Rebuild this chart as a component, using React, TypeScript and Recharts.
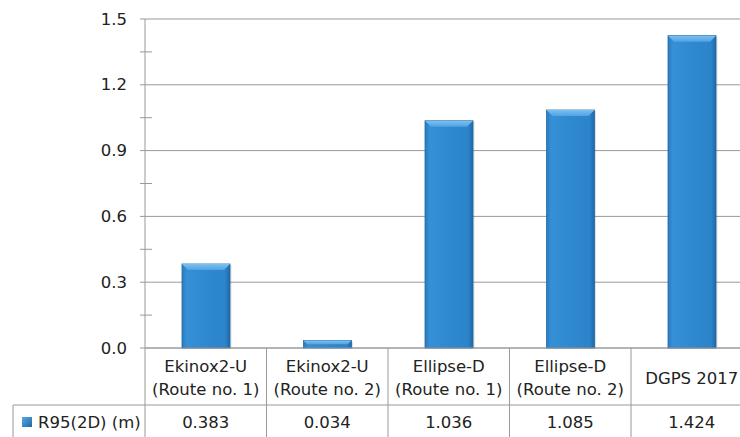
import React from "react";
import { BarChart, Bar, XAxis, YAxis, CartesianGrid } from "recharts";

const categories = [
  "Ekinox2-U\n(Route no. 1)",
  "Ekinox2-U\n(Route no. 2)",
  "Ellipse-D\n(Route no. 1)",
  "Ellipse-D\n(Route no. 2)",
  "DGPS 2017",
];
const r95Values = [0.383, 0.034, 1.036, 1.085, 1.424];
const seriesName = "R95(2D) (m)";
const yTicks = [0, 0.15, 0.3, 0.45, 0.6, 0.75, 0.9, 1.05, 1.2, 1.35, 1.5];
const yMajor = [0, 0.3, 0.6, 0.9, 1.2, 1.5];

const data = categories.map((name, i) => ({ name, value: r95Values[i] }));

const FONT = "'DejaVu Sans', Verdana, sans-serif";
const TEXT = "#222";
const LINE = "#9a9a9a";
const CHART_W = 760;
const CHART_H = 437;
const LEFT = 145;
const RIGHT_MARGIN = 7.5;
const CELL_W = (CHART_W - LEFT - RIGHT_MARGIN) / categories.length;

function YTick(props: any) {
  const { x, y, payload } = props;
  const v = payload.value;
  const major = yMajor.some((m) => Math.abs(m - v) < 1e-6);
  if (!major) {
    return <line x1={x - 5} x2={x + 7} y1={y} y2={y} stroke={LINE} />;
  }
  return (
    <g>
      <line x1={x - 5} x2={x} y1={y} y2={y} stroke={LINE} />
      <text
        x={x - 18}
        y={y}
        textAnchor="end"
        dominantBaseline="central"
        fontFamily={FONT}
        fontSize={16.5}
        fill={TEXT}
      >
        {v.toFixed(1)}
      </text>
    </g>
  );
}

function TableTick(props: any) {
  const { x, y, payload, index } = props;
  const lines = String(payload.value).split("\n");
  const left = x - CELL_W / 2;
  const right = x + CELL_W / 2;
  const rowY = y + 57;
  const valY = y + 74;
  return (
    <g>
      <line x1={left} x2={left} y1={y} y2={CHART_H} stroke={LINE} />
      <line x1={left} x2={right} y1={rowY} y2={rowY} stroke={LINE} />
      {lines.map((t, i) => (
        <text
          key={i}
          x={x}
          y={lines.length === 1 ? y + 30 : y + 18 + i * 23}
          textAnchor="middle"
          dominantBaseline="central"
          fontFamily={FONT}
          fontSize={16.5}
          fill={TEXT}
        >
          {t}
        </text>
      ))}
      <text
        x={x}
        y={valY}
        textAnchor="middle"
        dominantBaseline="central"
        fontFamily={FONT}
        fontSize={16.5}
        fill={TEXT}
      >
        {r95Values[index].toFixed(3)}
      </text>
      {index === 0 && (
        <g>
          <line x1={13} x2={left} y1={rowY} y2={rowY} stroke={LINE} />
          <line x1={13} x2={13} y1={rowY} y2={CHART_H} stroke={LINE} />
          <rect x={22} y={valY - 5} width={10} height={10} fill="url(#legendFill)" />
          <text
            x={38}
            y={valY}
            dominantBaseline="central"
            fontFamily={FONT}
            fontSize={16.5}
            fill={TEXT}
          >
            {seriesName}
          </text>
        </g>
      )}
    </g>
  );
}

function BevelBar(props: any) {
  const { x, y, width, height } = props;
  if (height <= 0) return null;
  const b = Math.min(6, height / 2);
  return (
    <g>
      <rect x={x + 1.5} y={y + 1} width={width} height={height - 1} fill="#000" opacity={0.12} />
      <rect x={x} y={y} width={width} height={height} fill="url(#barFill)" stroke="#2368a6" strokeWidth={0.8} />
      <polygon
        points={`${x},${y} ${x + width},${y} ${x + width - b},${y + b} ${x + b},${y + b}`}
        fill="url(#bevelFill)"
      />
    </g>
  );
}

export default function App() {
  return (
    <div
      style={{
        position: "fixed",
        left: 0,
        top: 0,
        width: 740,
        height: 437,
        overflow: "hidden",
        background: "#fff",
      }}
    >
      <BarChart
        width={CHART_W}
        height={CHART_H}
        data={data}
        margin={{ top: 19, right: RIGHT_MARGIN, left: 0, bottom: 0 }}
      >
        <defs>
          <linearGradient id="barFill" x1="0" y1="0" x2="1" y2="0">
            <stop offset="0%" stopColor="#2a7cc0" />
            <stop offset="10%" stopColor="#3690d6" />
            <stop offset="50%" stopColor="#2f89d0" />
            <stop offset="90%" stopColor="#2c84ca" />
            <stop offset="100%" stopColor="#1f68a8" />
          </linearGradient>
          <linearGradient id="bevelFill" x1="0" y1="0" x2="0" y2="1">
            <stop offset="0%" stopColor="#7cc0f0" />
            <stop offset="100%" stopColor="#4fa3e3" />
          </linearGradient>
          <linearGradient id="legendFill" x1="0" y1="0" x2="1" y2="1">
            <stop offset="0%" stopColor="#5aa8e6" />
            <stop offset="100%" stopColor="#1f68a8" />
          </linearGradient>
        </defs>
        <CartesianGrid
          vertical={false}
          horizontalValues={yMajor}
          stroke={LINE}
          strokeDasharray=""
        />
        <YAxis
          width={LEFT}
          domain={[0, 1.5]}
          ticks={yTicks}
          interval={0}
          tickSize={0}
          tickMargin={0}
          tickLine={false}
          axisLine={{ stroke: LINE }}
          tick={<YTick />}
        />
        <XAxis
          dataKey="name"
          height={CHART_H - 348}
          interval={0}
          tickSize={0}
          tickMargin={0}
          tickLine={false}
          axisLine={{ stroke: LINE }}
          tick={<TableTick />}
        />
        <Bar
          dataKey="value"
          barSize={48}
          shape={<BevelBar />}
          isAnimationActive={false}
        />
      </BarChart>
    </div>
  );
}
